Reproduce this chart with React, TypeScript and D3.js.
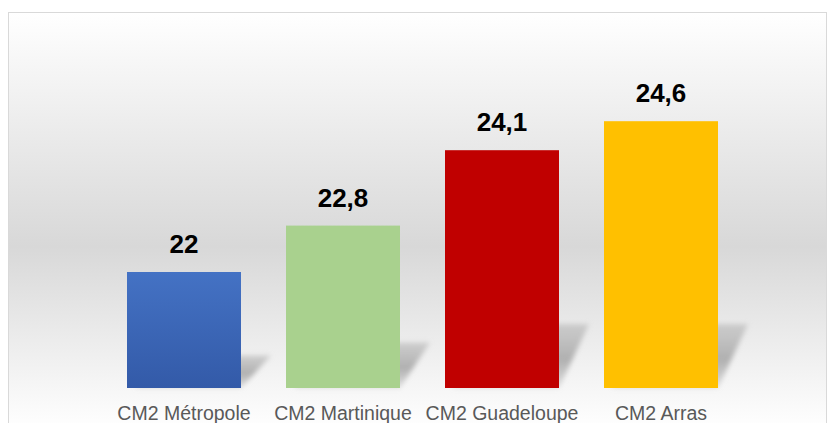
import * as d3 from 'd3';

const categories = ['CM2 Métropole', 'CM2 Martinique', 'CM2 Guadeloupe', 'CM2 Arras'];
const values = [22, 22.8, 24.1, 24.6];
const valueLabels = ['22', '22,8', '24,1', '24,6'];
const barColors = ['#4472c4', '#a9d18e', '#c00000', '#ffc000'];

export default function App() {
  const width = 828;
  const height = 423;
  const baseY = 388;

  const x = d3
    .scaleBand<string>()
    .domain(categories)
    .range([104.5, 740.5])
    .paddingInner(0.283)
    .paddingOuter(0.1415);
  const y = d3.scaleLinear().domain([20, 26.5]).range([baseY, 11]);

  // perspective-ish shadow behind each bar, Excel style
  const shadowPath = (i: number) => {
    const x0 = x(categories[i])!;
    const x1 = x0 + x.bandwidth();
    const h = Math.min(64, (baseY - y(values[i])) * 0.28);
    const dx = 30;
    const p = d3.path();
    p.moveTo(x0 + 8, baseY);
    p.lineTo(x1, baseY);
    p.lineTo(x1 + dx, baseY - h);
    p.lineTo(x0 + dx + 8, baseY - h);
    p.closePath();
    return p.toString();
  };

  return (
    <svg
      width={width}
      height={height}
      style={{ position: 'absolute', left: 0, top: 0, background: '#fff' }}
    >
      <defs>
        <linearGradient id="bg" x1="0" y1="12" x2="0" y2="430" gradientUnits="userSpaceOnUse">
          <stop offset="0" stopColor="#ffffff" />
          <stop offset="0.56" stopColor="#d8d8d8" />
          <stop offset="1" stopColor="#ffffff" />
        </linearGradient>
        <linearGradient id="blue" x1="0" y1="0" x2="0" y2="1">
          <stop offset="0" stopColor="#4472c4" />
          <stop offset="1" stopColor="#335aa8" />
        </linearGradient>
        <linearGradient id="shade" x1="0" y1="1" x2="0" y2="0">
          <stop offset="0" stopColor="#b0b0b0" stopOpacity="0.3" />
          <stop offset="0.45" stopColor="#b0b0b0" stopOpacity="1" />
          <stop offset="1" stopColor="#b8b8b8" stopOpacity="0.6" />
        </linearGradient>
        <filter id="blur" x="-20%" y="-40%" width="140%" height="180%">
          <feGaussianBlur stdDeviation="2.5" />
        </filter>
      </defs>
      <rect x={8.5} y={12.5} width={818} height={420} fill="url(#bg)" stroke="#d9d9d9" />

      {categories.map((c, i) => (
        <path key={'s' + c} d={shadowPath(i)} fill="url(#shade)" filter="url(#blur)" />
      ))}

      {categories.map((c, i) => (
        <rect
          key={c}
          x={x(c)}
          y={y(values[i])}
          width={x.bandwidth()}
          height={baseY - y(values[i])}
          fill={i === 0 ? 'url(#blue)' : barColors[i]}
        />
      ))}

      {categories.map((c, i) => (
        <text
          key={'v' + c}
          x={x(c)! + x.bandwidth() / 2}
          y={y(values[i]) - 19}
          textAnchor="middle"
          fontFamily="'Liberation Sans', Arial, sans-serif"
          fontWeight="bold"
          fontSize={26}
          fill="#000"
        >
          {valueLabels[i]}
        </text>
      ))}

      {categories.map((c) => (
        <text
          key={'c' + c}
          x={x(c)! + x.bandwidth() / 2}
          y={420}
          textAnchor="middle"
          fontFamily="'Liberation Sans', Arial, sans-serif"
          fontSize={19.5}
          fill="#595959"
        >
          {c}
        </text>
      ))}
    </svg>
  );
}
